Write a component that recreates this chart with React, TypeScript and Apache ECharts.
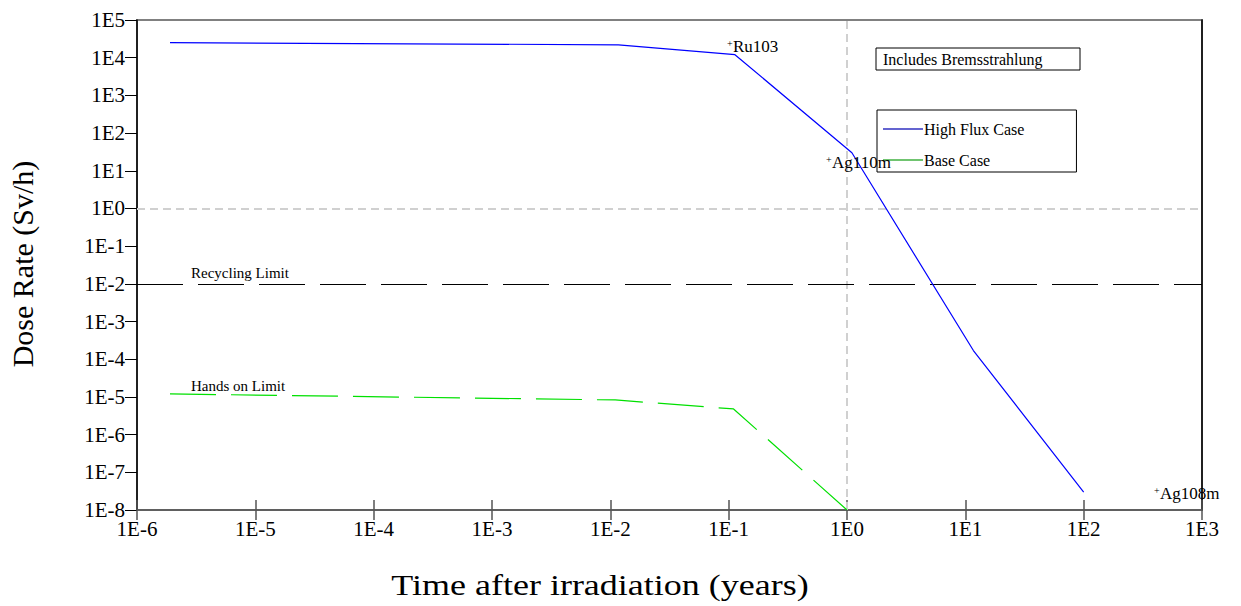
import React, { useEffect, useRef } from "react";
import * as echarts from "echarts";

const FONT = '"Liberation Serif", "Times New Roman", serif';

// Time (years) and dose rate (Sv/h)
const highFluxTime = [1.9e-6, 0.0117, 0.113, 1.1, 11.7, 100];
const highFluxDose = [2.5e4, 2.2e4, 1.2e4, 30, 1.7e-4, 3e-8];
const baseTime = [1.9e-6, 0.011, 0.11, 1.0];
const baseDose = [1.2e-5, 8.3e-6, 4.8e-6, 1e-8];

const recyclingLimit = 1e-2;
const handsOnLimit = 1e-5;
const xMin = 1e-6;
const xMax = 1e3;
const yMin = 1e-8;
const yMax = 1e5;

const expLabel = (v: number) => "1E" + Math.round(Math.log10(v));
const LINE_ICON = "path://M0,0 L40,0 L40,1.4 L0,1.4 Z";

export default function App() {
  const ref = useRef<HTMLDivElement>(null);
  useEffect(() => {
    if (!ref.current) return;
    const chart = echarts.init(ref.current, null, { renderer: "svg" });
    const hf = highFluxTime.map((t, i) => [t, highFluxDose[i]]);
    const bc = baseTime.map((t, i) => [t, baseDose[i]]);
    const xCommon = {
      type: "log" as const,
      logBase: 10,
      min: xMin,
      max: xMax,
      interval: 1,
      position: "bottom" as const,
      splitLine: { show: false },
      minorTick: { show: false },
    };
    const annot = (x: number, y: number, text: string) => [
      { type: "text", x, y: y - 3, z: 100, style: { text: "+", font: `10px ${FONT}`, fill: "#000", verticalAlign: "middle" } },
      { type: "text", x: x + 6, y, z: 100, style: { text, font: `17px ${FONT}`, fill: "#000", verticalAlign: "middle" } },
    ];
    chart.setOption({
      animation: false,
      backgroundColor: "#fff",
      grid: {
        left: 137,
        right: 39,
        top: 20,
        bottom: 96,
        show: true,
        borderColor: "#808080",
        borderWidth: 2,
        backgroundColor: "transparent",
      },
      xAxis: [
        {
          ...xCommon,
          axisLine: { show: true, lineStyle: { color: "#555", width: 1.5 } },
          axisTick: { show: true, inside: false, length: 10, lineStyle: { color: "#555", width: 1.5 } },
          axisLabel: {
            formatter: expLabel,
            fontFamily: FONT,
            fontSize: 21,
            color: "#000",
            margin: 8,
          },
        },
        {
          ...xCommon,
          axisLine: { show: false },
          axisTick: { show: true, inside: true, length: 10, lineStyle: { color: "#555", width: 1.5 } },
          axisLabel: { show: false },
        },
      ],
      yAxis: [
        {
          type: "log",
          logBase: 10,
          min: yMin,
          max: yMax,
          interval: 1,
          position: "left",
          splitLine: { show: false },
          minorTick: { show: false },
          axisLine: { show: true, lineStyle: { color: "#000", width: 1.5 } },
          axisTick: { show: true, inside: false, length: 12, lineStyle: { color: "#000", width: 1 } },
          axisLabel: {
            formatter: expLabel,
            fontFamily: FONT,
            fontSize: 21,
            color: "#000",
            margin: 12,
          },
        },
        {
          type: "log",
          logBase: 10,
          min: yMin,
          max: yMax,
          interval: 1,
          position: "right",
          splitLine: { show: false },
          axisLine: { show: true, lineStyle: { color: "#000", width: 1.5 } },
          axisTick: { show: false },
          axisLabel: { show: false },
        },
      ],
      legend: {
        data: [
          { name: "High Flux Case", icon: LINE_ICON },
          { name: "Base Case", icon: LINE_ICON },
        ],
        orient: "vertical",
        left: 877,
        top: 110,
        itemWidth: 40,
        itemHeight: 14,
        itemGap: 15,
        padding: [11, 52, 4, 6],
        borderColor: "#000",
        borderWidth: 1,
        backgroundColor: "#fff",
        z: 3,
        textStyle: { fontFamily: FONT, fontSize: 16, color: "#000", padding: [0, 0, 0, -4] },
      },
      series: [
        {
          name: "High Flux Case",
          type: "line",
          data: hf,
          symbol: "none",
          z: 5,
          lineStyle: { color: "#0000ff", width: 1.2 },
          itemStyle: { color: "#3030c0" },
          markLine: {
            silent: true,
            symbol: "none",
            label: { show: false },
            z: 2,
            data: [
              { yAxis: 1, lineStyle: { color: "#d0d0d0", width: 2, type: [8, 5] } },
              { xAxis: 1, lineStyle: { color: "#d0d0d0", width: 2, type: [8, 5] } },
              { yAxis: recyclingLimit, lineStyle: { color: "#000", width: 1.2, type: [46, 15] } },
              { yAxis: handsOnLimit, lineStyle: { color: "#000", width: 1.2, type: [46, 15] } },
            ],
          },
        },
        {
          name: "Base Case",
          type: "line",
          data: bc,
          symbol: "none",
          z: 6,
          lineStyle: { color: "#00e000", width: 1.2, type: [46, 15] },
          itemStyle: { color: "#40b040" },
        },
      ],
      graphic: [
        {
          type: "text",
          x: 22,
          y: 264,
          rotation: Math.PI / 2,
          style: {
            text: "Dose Rate (Sv/h)",
            font: `30px ${FONT}`,
            fill: "#000",
            align: "center",
            verticalAlign: "middle",
          },
        },
        {
          type: "text",
          x: 600,
          y: 585,
          scaleX: 1.2,
          style: {
            text: "Time after irradiation (years)",
            font: `30px ${FONT}`,
            fill: "#000",
            align: "center",
            verticalAlign: "middle",
          },
        },
        {
          type: "text",
          x: 191,
          y: 273,
          style: { text: "Recycling Limit", font: `15px ${FONT}`, fill: "#000", verticalAlign: "middle" },
        },
        {
          type: "text",
          x: 191,
          y: 386,
          style: { text: "Hands on Limit", font: `15px ${FONT}`, fill: "#000", verticalAlign: "middle" },
        },
        ...annot(727, 46, "Ru103"),
        ...annot(826, 162, "Ag110m"),
        ...annot(1154, 493, "Ag108m"),
        {
          type: "rect",
          shape: { x: 876, y: 48, width: 204, height: 22 },
          style: { fill: "#fff", stroke: "#000", lineWidth: 1 },
          z: 10,
        },
        {
          type: "text",
          x: 883,
          y: 59,
          z: 11,
          style: { text: "Includes Bremsstrahlung", font: `16px ${FONT}`, fill: "#000", verticalAlign: "middle" },
        },
      ],
    });
    return () => chart.dispose();
  }, []);
  return (
    <div
      ref={ref}
      style={{ position: "fixed", left: 0, top: 0, width: 1241, height: 606, background: "#fff" }}
    />
  );
}
